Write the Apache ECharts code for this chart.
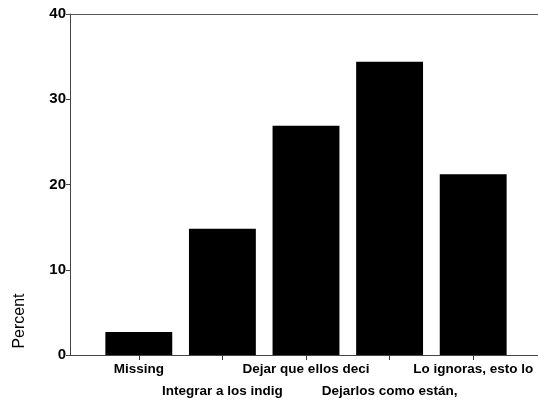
<!DOCTYPE html>
<html>
<head>
<meta charset="utf-8">
<script src="https://cdn.jsdelivr.net/npm/echarts@6/dist/echarts.min.js"></script>
<style>
  html, body { margin: 0; padding: 0; background: #fff; }
  #chart { width: 538px; height: 403px; }
</style>
</head>
<body>
<div id="chart"></div>
<script>
// Data
const categories = ['Missing', 'Integrar a los indig', 'Dejar que ellos deci', 'Dejarlos como están,', 'Lo ignoras, esto lo'];
const percentValues = [2.7, 14.8, 26.9, 34.4, 21.2];
const yTicks = [0, 10, 20, 30, 40];
const yAxisTitle = 'Percent';

const FONT = '"Liberation Sans", Arial, Helvetica, sans-serif';
const chart = echarts.init(document.getElementById('chart'), null, { renderer: 'canvas' });

const option = {
  backgroundColor: '#ffffff',
  animation: false,
  grid: [
    { left: 70, right: 0, top: 14, bottom: 48 },   // frame grid (axes)
    { left: 97, right: 23, top: 14, bottom: 48 }   // bar grid
  ],
  xAxis: [
    {
      gridIndex: 0, type: 'value', min: 0, max: 1, position: 'bottom',
      axisLine: { show: true, lineStyle: { color: '#444', width: 1 } },
      axisTick: { show: false }, axisLabel: { show: false }, splitLine: { show: false }
    },
    {
      gridIndex: 0, type: 'value', min: 0, max: 1, position: 'top',
      axisLine: { show: true, lineStyle: { color: '#555', width: 1 } },
      axisTick: { show: false }, axisLabel: { show: false }, splitLine: { show: false }
    },
    {
      gridIndex: 1, type: 'category', data: categories, position: 'bottom',
      axisLine: { show: false },
      axisTick: { show: true, alignWithLabel: true, length: 5, lineStyle: { color: '#333', width: 1 } },
      axisLabel: {
        interval: 0, margin: 3, color: '#000',
        fontFamily: FONT, fontSize: 13.5, fontWeight: 'bold', lineHeight: 22,
        formatter: function (v, i) { return i % 2 === 1 ? '\n' + v : v; }
      },
      splitLine: { show: false }
    }
  ],
  yAxis: [
    {
      gridIndex: 0, type: 'value', min: yTicks[0], max: yTicks[yTicks.length - 1], interval: 10,
      axisLine: { show: true, lineStyle: { color: '#444', width: 1 } },
      axisTick: { show: true, length: 4, lineStyle: { color: '#444' } },
      axisLabel: { margin: 4, color: '#000', fontFamily: FONT, fontSize: 15, fontWeight: 'bold' },
      splitLine: { show: false }
    },
    {
      gridIndex: 1, type: 'value', min: yTicks[0], max: yTicks[yTicks.length - 1], show: false
    }
  ],
  series: [
    {
      type: 'bar', xAxisIndex: 2, yAxisIndex: 1,
      data: percentValues,
      barCategoryGap: '20%',
      itemStyle: { color: '#000' },
      silent: true
    }
  ],
  graphic: [
    {
      type: 'text', x: 20, y: 321, rotation: Math.PI / 2,
      style: {
        text: yAxisTitle, fill: '#000', font: '16px ' + FONT,
        align: 'center', verticalAlign: 'middle'
      }
    }
  ]
};
chart.setOption(option);
</script>
</body>
</html>
